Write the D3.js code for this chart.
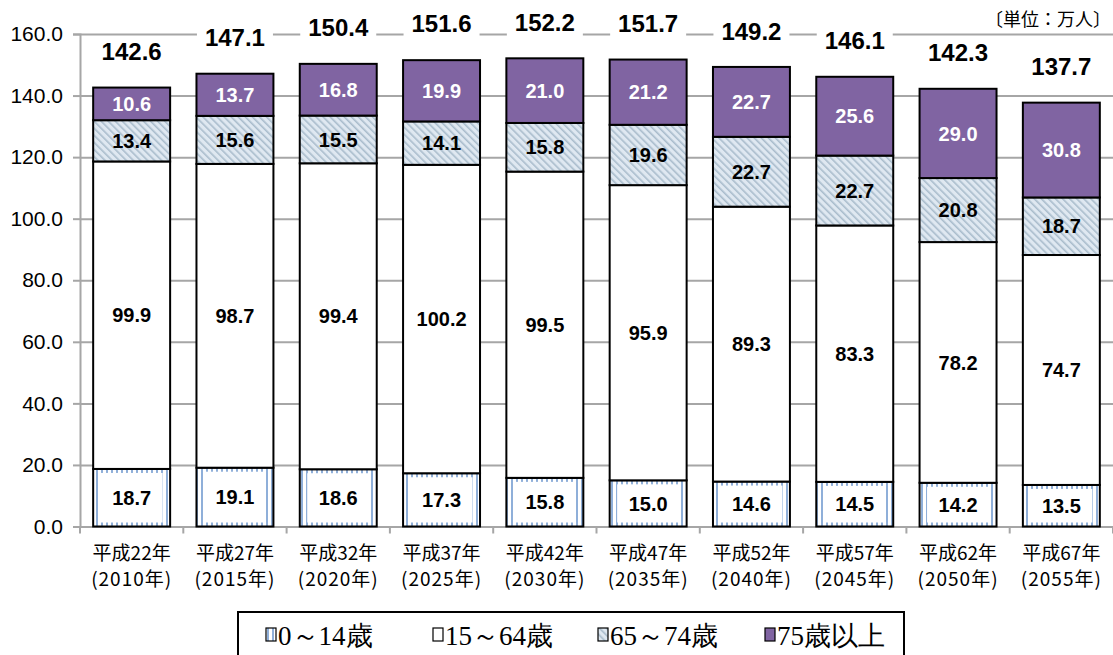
<!DOCTYPE html>
<html>
<head>
<meta charset="utf-8">
<script src="https://cdn.jsdelivr.net/npm/d3@7"></script>
<style>
  body { margin: 0; background: #fff; }
  svg { display: block; }
</style>
</head>
<body>
<div id="chart"></div>
<script>
let years1 = ['平成22年', '平成27年', '平成32年', '平成37年', '平成42年', '平成47年', '平成52年', '平成57年', '平成62年', '平成67年'];
let years2 = ['(2010年)', '(2015年)', '(2020年)', '(2025年)', '(2030年)', '(2035年)', '(2040年)', '(2045年)', '(2050年)', '(2055年)'];
let age0to14 = [18.7, 19.1, 18.6, 17.3, 15.8, 15.0, 14.6, 14.5, 14.2, 13.5];
let age15to64 = [99.9, 98.7, 99.4, 100.2, 99.5, 95.9, 89.3, 83.3, 78.2, 74.7];
let age65to74 = [13.4, 15.6, 15.5, 14.1, 15.8, 19.6, 22.7, 22.7, 20.8, 18.7];
let age75plus = [10.6, 13.7, 16.8, 19.9, 21.0, 21.2, 22.7, 25.6, 29.0, 30.8];
let totals = [142.6, 147.1, 150.4, 151.6, 152.2, 151.7, 149.2, 146.1, 142.3, 137.7];
let yTicks = [0, 20, 40, 60, 80, 100, 120, 140, 160];
let seriesNames = ['0～14歳', '15～64歳', '65～74歳', '75歳以上'];
let unitLabel = '〔単位：万人〕';

let svgWidth = 1113, svgHeight = 655,
  plotLeft = 80, plotRight = 1113,
  plotTop = 34, plotBottom = 526.5;

const numFont = '"Liberation Sans", Arial, sans-serif';
const jpFont = '"Noto Sans CJK JP", sans-serif';

const svg = d3.select('#chart')
  .append('svg')
  .attr('width', svgWidth)
  .attr('height', svgHeight);

// patterns
const defs = svg.append('defs');
const kids = defs.append('pattern')
  .attr('id', 'kids')
  .attr('patternUnits', 'userSpaceOnUse')
  .attr('width', 5).attr('height', 5);
kids.append('rect').attr('width', 5).attr('height', 5).attr('fill', '#fff');
kids.append('rect').attr('x', 1).attr('width', 2).attr('height', 5).attr('fill', '#8fafd9');

const senior = defs.append('pattern')
  .attr('id', 'senior')
  .attr('patternUnits', 'userSpaceOnUse')
  .attr('width', 5).attr('height', 5)
  .attr('patternTransform', 'rotate(-45)');
senior.append('rect').attr('width', 5).attr('height', 5).attr('fill', '#dfe8f1');
senior.append('rect').attr('width', 1.6).attr('height', 5).attr('fill', '#a9bccc');

const x = d3.scaleBand()
  .domain(years1)
  .range([plotLeft, plotRight])
  .paddingInner(0.255)
  .paddingOuter(0.1275);

const y = d3.scaleLinear()
  .domain([0, 160])
  .range([plotBottom, plotTop]);

// gridlines
svg.append('g')
  .attr('transform', `translate(${plotLeft},0)`)
  .call(d3.axisLeft(y).tickValues(yTicks).tickSize(-(plotRight - plotLeft)).tickFormat(''))
  .call(g => g.select('.domain').remove())
  .call(g => g.selectAll('line').attr('stroke', '#a6a6a6').attr('stroke-width', 2));

// y axis
svg.append('g')
  .attr('transform', `translate(${plotLeft},0)`)
  .call(d3.axisLeft(y).tickValues(yTicks).tickSize(7).tickPadding(10).tickFormat(d3.format('.1f')))
  .call(g => g.select('.domain').attr('stroke', '#a6a6a6').attr('stroke-width', 2))
  .call(g => g.selectAll('line').attr('stroke', '#a6a6a6').attr('stroke-width', 2))
  .call(g => g.selectAll('text').attr('font-family', numFont).attr('font-size', 21).attr('fill', '#000'));

// x ticks between categories
const step = x.step();
svg.selectAll('.x-tick')
  .data(d3.range(years1.length + 1))
  .enter()
  .append('line')
  .attr('x1', i => x(years1[0]) - x.paddingOuter() * step + i * step)
  .attr('x2', i => x(years1[0]) - x.paddingOuter() * step + i * step)
  .attr('y1', plotBottom)
  .attr('y2', plotBottom + 7)
  .attr('stroke', '#a6a6a6')
  .attr('stroke-width', 2);

// stacked bars
const rows = years1.map((c, i) => ({ cat: c, a: age0to14[i], b: age15to64[i], c: age65to74[i], d: age75plus[i] }));
const stack = d3.stack().keys(['a', 'b', 'c', 'd'])(rows);
const fills = ['url(#kids)', '#ffffff', 'url(#senior)', '#8064a2'];

stack.forEach((layer, li) => {
  const g = svg.append('g');
  g.selectAll('rect')
    .data(layer)
    .enter()
    .append('rect')
    .attr('x', d => x(d.data.cat))
    .attr('y', d => y(d[1]))
    .attr('width', x.bandwidth())
    .attr('height', d => y(d[0]) - y(d[1]))
    .attr('fill', fills[li])
    .attr('stroke', '#000')
    .attr('stroke-width', 2);

  if (li === 0) {
    // white label boxes on the 0-14 segment
    g.selectAll('.lbl-box')
      .data(layer)
      .enter()
      .append('rect')
      .attr('x', d => x(d.data.cat) + x.bandwidth() / 2 - 31)
      .attr('y', d => y(d[1]) + 4)
      .attr('width', 62)
      .attr('height', d => y(d[0]) - y(d[1]) - 8)
      .attr('fill', '#fff');
  }

  g.selectAll('text')
    .data(layer)
    .enter()
    .append('text')
    .attr('x', d => x(d.data.cat) + x.bandwidth() / 2)
    .attr('y', d => (y(d[0]) + y(d[1])) / 2)
    .attr('dy', '0.36em')
    .attr('text-anchor', 'middle')
    .attr('font-family', numFont)
    .attr('font-weight', 'bold')
    .attr('font-size', 20)
    .attr('fill', li === 3 ? '#fff' : '#000')
    .text(d => (d[1] - d[0]).toFixed(1));
});

// total labels
const totalG = svg.append('g');
totalG.selectAll('rect')
  .data(totals)
  .enter()
  .append('rect')
  .attr('x', (d, i) => x(years1[i]) + x.bandwidth() / 2 - 38)
  .attr('y', d => y(d) - 36 - 14)
  .attr('width', 76)
  .attr('height', 28)
  .attr('fill', '#fff');
totalG.selectAll('text')
  .data(totals)
  .enter()
  .append('text')
  .attr('x', (d, i) => x(years1[i]) + x.bandwidth() / 2)
  .attr('y', d => y(d) - 36)
  .attr('dy', '0.36em')
  .attr('text-anchor', 'middle')
  .attr('font-family', numFont)
  .attr('font-weight', 'bold')
  .attr('font-size', 24)
  .text(d => d.toFixed(1));

// unit label
svg.append('rect')
  .attr('x', 990).attr('y', 6).attr('width', 123).attr('height', 26)
  .attr('fill', '#fff');
svg.append('text')
  .attr('x', 1111)
  .attr('y', 20)
  .attr('dy', '0.35em')
  .attr('text-anchor', 'end')
  .attr('font-family', jpFont)
  .attr('font-size', 18)
  .text(unitLabel);

// x labels
svg.selectAll('.x-label1')
  .data(years1)
  .enter()
  .append('text')
  .attr('x', d => x(d) + x.bandwidth() / 2)
  .attr('y', 553)
  .attr('dy', '0.35em')
  .attr('text-anchor', 'middle')
  .attr('font-family', jpFont)
  .attr('font-size', 19)
  .text(d => d);
svg.selectAll('.x-label2')
  .data(years2)
  .enter()
  .append('text')
  .attr('x', (d, i) => x(years1[i]) + x.bandwidth() / 2)
  .attr('y', 579)
  .attr('dy', '0.35em')
  .attr('text-anchor', 'middle')
  .attr('font-family', jpFont)
  .attr('font-size', 19)
  .attr('letter-spacing', 1)
  .text(d => d);

// legend
svg.append('rect')
  .attr('x', 238).attr('y', 612)
  .attr('width', 666).attr('height', 50)
  .attr('fill', '#fff')
  .attr('stroke', '#000')
  .attr('stroke-width', 2);

const legendX = [266, 433, 598, 765];
const legendFills = ['url(#kids)', '#ffffff', 'url(#senior)', '#8064a2'];
const legend = svg.selectAll('.legend')
  .data(seriesNames)
  .enter()
  .append('g')
  .attr('transform', (d, i) => `translate(${legendX[i]}, 635)`);
legend.append('rect')
  .attr('x', 0).attr('y', -7)
  .attr('width', 10).attr('height', 13)
  .attr('fill', (d, i) => legendFills[i])
  .attr('stroke', '#000')
  .attr('stroke-width', 1.2);
legend.append('text')
  .attr('x', 12)
  .attr('dy', '0.36em')
  .attr('font-family', '"Liberation Serif", "Times New Roman", serif')
  .attr('font-size', 27)
  .text(d => d);
</script>
</body>
</html>
